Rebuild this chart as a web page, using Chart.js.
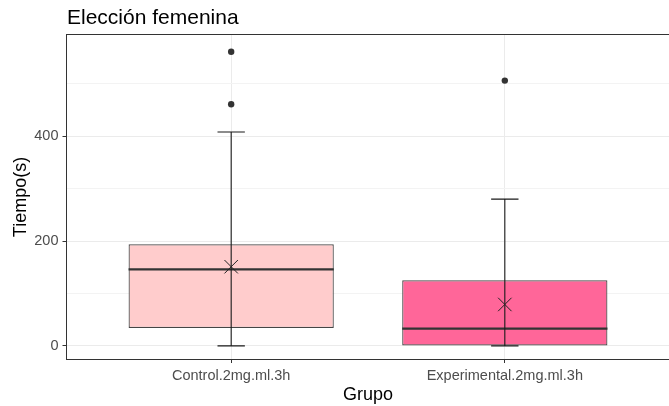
<!DOCTYPE html>
<html>
<head>
<meta charset="utf-8">
<script src="https://cdn.jsdelivr.net/npm/chart.js@4.4.0/dist/chart.umd.min.js"></script>
<style>
  body { margin: 0; background: #fff; }
  #wrap { width: 669px; height: 406px; }
</style>
</head>
<body>
<div id="wrap"><canvas id="boxChart" width="669" height="406"></canvas></div>
<script>
// values
var groups = ['Control.2mg.ml.3h', 'Experimental.2mg.ml.3h'];
var q1 = [34, 0];
var q3 = [194, 125];
var medians = [146, 33];
var means = [151, 79];
var whiskLow = [0, 0];
var whiskHigh = [408, 280];
var outliers = [[561, 461], [506]];
var boxColors = ['#FFCCCC', '#FF6699'];

var yTicks = [0, 100, 200, 300, 400, 500];
var yLabelled = [0, 200, 400];

var FONT = "'Liberation Sans', Arial, sans-serif";
var BOX_HALF = 0.375;
var CAP_HALF = 0.05;

// build the datasets from the arrays
var boxData = [], medianData = [], whiskerData = [], outlierData = [], meanData = [];
groups.forEach(function(g, i) {
  var x = i + 1;
  boxData.push({ x: x, y: [q1[i], q3[i]] });
  medianData.push({ x: x - BOX_HALF, y: medians[i] }, { x: x + BOX_HALF, y: medians[i] }, { x: x + 0.5, y: null });
  whiskerData.push(
    { x: x, y: whiskLow[i] }, { x: x, y: whiskHigh[i] }, { x: x, y: null },
    { x: x - CAP_HALF, y: whiskHigh[i] }, { x: x + CAP_HALF, y: whiskHigh[i] }, { x: x, y: null },
    { x: x - CAP_HALF, y: whiskLow[i] }, { x: x + CAP_HALF, y: whiskLow[i] }, { x: x + 0.5, y: null }
  );
  outliers[i].forEach(function(v) { outlierData.push({ x: x, y: v }); });
  meanData.push({ x: x, y: means[i] });
});

var panelBorder = {
  id: 'panelBorder',
  afterDatasetsDraw: function(chart) {
    var a = chart.chartArea, ctx = chart.ctx;
    ctx.save();
    ctx.strokeStyle = '#333333';
    ctx.lineWidth = 1;
    ctx.strokeRect(Math.round(a.left) - 0.5, Math.round(a.top) - 0.5, a.right - a.left + 2, Math.round(a.bottom - a.top) + 1);
    ctx.restore();
  }
};

new Chart(document.getElementById('boxChart'), {
  type: 'bar',
  data: {
    datasets: [{
      type: 'bar',
      data: boxData,
      backgroundColor: boxColors,
      borderColor: '#454545',
      borderWidth: 1.2,
      borderSkipped: false,
      barPercentage: 0.75,
      categoryPercentage: 1,
      order: 6
    }, {
      type: 'line',
      data: medianData,
      borderColor: '#333333',
      borderWidth: 2.2,
      pointRadius: 0,
      spanGaps: false,
      order: 5
    }, {
      type: 'line',
      data: whiskerData,
      borderColor: '#1a1a1a',
      borderWidth: 1.1,
      pointRadius: 0,
      spanGaps: false,
      order: 4
    }, {
      type: 'scatter',
      data: outlierData,
      pointRadius: 3.2,
      backgroundColor: '#333333',
      borderWidth: 0,
      order: 2
    }, {
      type: 'scatter',
      data: meanData,
      pointStyle: 'crossRot',
      pointRadius: 9.5,
      borderColor: '#222222',
      borderWidth: 1,
      order: 1
    }]
  },
  options: {
    responsive: false,
    animation: false,
    layout: { padding: 0, autoPadding: false },
    plugins: {
      legend: { display: false },
      tooltip: { enabled: false },
      title: {
        display: true,
        text: 'Elección femenina',
        align: 'start',
        fullSize: false,
        color: '#000000',
        font: { family: FONT, size: 21, weight: 'normal', lineHeight: 1.2 },
        padding: { top: 5.4, bottom: 4.4 }
      }
    },
    scales: {
      x: {
        type: 'linear',
        min: 0.4,
        max: 2.6,
        offset: false,
        afterBuildTicks: function(scale) {
          scale.ticks = groups.map(function(g, i) { return { value: i + 1 }; });
        },
        afterFit: function(scale) {
          scale.height = 47;
          scale.paddingLeft = 0;
          scale.paddingRight = 0;
        },
        ticks: {
          color: '#4D4D4D',
          font: { family: FONT, size: 14.5 },
          padding: 4,
          maxRotation: 0,
          autoSkip: false,
          callback: function(v) { return groups[v - 1]; }
        },
        grid: {
          offset: false,
          color: '#EBEBEB',
          lineWidth: 1,
          tickLength: 4,
          tickColor: '#333333'
        },
        border: { display: false },
        title: {
          display: true,
          text: 'Grupo',
          color: '#000000',
          font: { family: FONT, size: 18 },
          padding: { top: 0, bottom: 0 }
        }
      },
      y: {
        min: -25,
        max: 593,
        afterBuildTicks: function(scale) {
          scale.ticks = yTicks.map(function(v) { return { value: v }; });
        },
        afterFit: function(scale) {
          scale.width = 67;
          scale.paddingTop = 0;
          scale.paddingBottom = 0;
        },
        ticks: {
          color: '#4D4D4D',
          font: { family: FONT, size: 14.5 },
          padding: 4,
          callback: function(v) { return yLabelled.indexOf(v) >= 0 ? String(v) : ''; }
        },
        grid: {
          color: function(c) { return yLabelled.indexOf(c.tick && c.tick.value) >= 0 ? '#EBEBEB' : '#F3F3F3'; },
          lineWidth: 1,
          tickLength: 4.5,
          tickColor: function(c) { return yLabelled.indexOf(c.tick && c.tick.value) >= 0 ? '#333333' : 'rgba(0,0,0,0)'; }
        },
        border: { display: false },
        title: {
          display: true,
          text: 'Tiempo(s)',
          color: '#000000',
          font: { family: FONT, size: 18 },
          padding: { top: 10, bottom: 0 }
        }
      }
    }
  },
  plugins: [panelBorder]
});
</script>
</body>
</html>
